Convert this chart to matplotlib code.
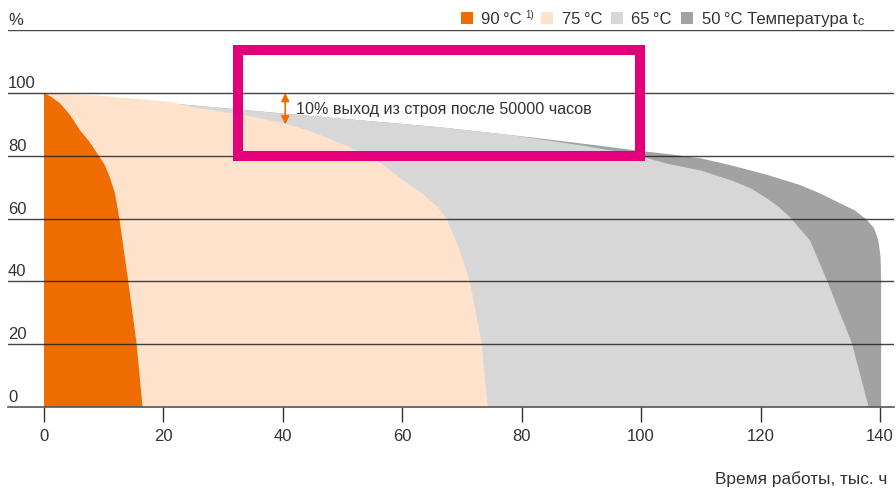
import matplotlib
matplotlib.use('Agg')
import matplotlib.pyplot as plt
from matplotlib.patches import Rectangle

plt.rcParams['font.family'] = ['Liberation Sans', 'DejaVu Sans']

# values: operating time (thousand hours) -> share still working (%)
t90_x = [0, 1.0, 2.7, 4.35, 6.0, 7.6, 9.1, 10.2, 11.0, 11.9, 12.6, 14.1, 15.5, 16.5]
t90_y = [100, 99.0, 96.7, 93.0, 88.2, 84.5, 80.2, 77.0, 73.3, 68.0, 60.3, 40.2, 20.3, 0]

t75_x = [0, 9.4, 20.6, 26.1, 31.7, 33.4, 40.4, 44.5, 48.4, 52.9, 56.5, 59.6, 63.5, 66.0, 67.4, 69.5, 71.3, 73.3, 74.3]
t75_y = [100, 99.1, 97.3, 95.1, 93.5, 93.0, 90.3, 87.9, 85.0, 81.3, 77.5, 73.0, 67.8, 63.5, 60.1, 50.5, 40.2, 20.3, 0]

t65_x = [0, 20, 33.4, 50, 65.2, 73, 79, 90, 98.7, 104.3, 110, 115.4, 118.5, 121.0, 123.0, 124.9, 128.3, 131.1, 135.3, 138.1]
t65_y = [100, 96.9, 94.6, 91.8, 89.3, 87.7, 86.4, 83.3, 80.5, 77.5, 75.3, 72.0, 69.5, 66.5, 63.8, 60.5, 53.0, 40.4, 20.3, 0]

t50_x = [0, 20, 33.4, 50, 65.2, 73, 81.9, 93.1, 98.7, 104.3, 110, 115.4, 121, 126.6, 130, 133.3, 135.8, 137.8, 139.0, 139.7, 140.1, 140.2, 140.2]
t50_y = [100, 96.9, 94.6, 91.8, 89.3, 87.7, 85.8, 83.2, 81.8, 80.6, 79.2, 76.8, 74.0, 70.7, 68.0, 64.9, 62.6, 59.6, 57.0, 53.2, 48.0, 40.0, 0]

x_ticks = [0, 20, 40, 60, 80, 100, 120, 140]
y_lines = [20, 40, 60, 80, 100, 120]
y_labels = ['20', '40', '60', '80', '100', '%']

legend_labels = ['90\u2009°C', '75\u2009°C', '65\u2009°C', '50\u2009°C Температура t']
note = '10% выход из строя после 50000 часов'

orange = '#EF6C00'
peach = '#FEE2CB'
light = '#D7D7D7'
dark = '#A2A2A2'
magenta = '#E2007A'
txt = '#333333'

W, H = 896, 488
fig = plt.figure(figsize=(W / 100, H / 100), dpi=100)
ax = fig.add_axes([8 / W, 1 - 407 / H, 886 / W, (407 - 30.2) / H])
ax.set_xlim(-6.03, 142.35)
ax.set_ylim(0, 120)

# stacked areas, darkest/longest first
for xs, ys, c in [(t50_x, t50_y, dark), (t65_x, t65_y, light),
                  (t75_x, t75_y, peach), (t90_x, t90_y, orange)]:
    ax.fill(xs + [0], ys + [0], color=c, lw=0, zorder=1)

for v in y_lines:
    ax.axhline(v, color='#222222', lw=1.0, alpha=0.85, zorder=3)

fs = 12
ax.annotate('0', xy=(0, 0), xycoords=('axes fraction', 'data'), xytext=(0, 3.6),
            textcoords='offset points', va='baseline', ha='left', fontsize=fs, color=txt)
for v, s in zip(y_lines, y_labels):
    ax.annotate(s, xy=(0, v), xycoords=('axes fraction', 'data'), xytext=(0, 3.6),
                textcoords='offset points', va='baseline', ha='left', fontsize=fs, color=txt)

for s in ['left', 'right', 'top']:
    ax.spines[s].set_visible(False)
ax.spines['bottom'].set_color('#555555')
ax.spines['bottom'].set_linewidth(1.2)
ax.set_yticks([])
ax.set_xticks(x_ticks)
ax.tick_params(axis='x', length=11, width=1, color='#333333', pad=5,
               labelsize=fs, labelcolor=txt)

# arrow + note + magenta frame
ax.annotate('', xy=(40.4, 90), xytext=(40.4, 100),
            arrowprops=dict(arrowstyle='<|-|>', color=orange, lw=1.2,
                            mutation_scale=12, shrinkA=0, shrinkB=0), zorder=4)
ax.text(42.2, 94.6, note, va='center', ha='left', fontsize=11.6, color=txt, zorder=4)
ax.add_patch(Rectangle((32.5, 79.9), 99.8 - 32.5, 113.7 - 79.9, fill=False,
                       ec=magenta, lw=7.2, joinstyle='miter', zorder=5))

# legend drawn by hand
sq_x = [461, 541, 611, 681]
lab_x = [481, 562, 631, 702]
cols = [orange, peach, light, dark]
items = []
for sx, lx, c, lab in zip(sq_x, lab_x, cols, legend_labels):
    fig.add_artist(Rectangle((sx / W, 1 - 24 / H), 12 / W, 12 / H,
                             transform=fig.transFigure, color=c, lw=0))
    items.append(fig.text(lx / W, 1 - 24 / H, lab, va='baseline', ha='left',
                          fontsize=fs, color=txt))

fig.text(887 / W, 1 - 484 / H, 'Время работы, тыс. ч', ha='right', va='baseline',
         fontsize=12.4, color=txt)

fig.canvas.draw()
r = fig.canvas.get_renderer()
b0 = items[0].get_window_extent(r)
fig.text((b0.x1 + 4) / W, 1 - 18.5 / H, '1)', va='baseline', ha='left', fontsize=7, color=txt)
b3 = items[3].get_window_extent(r)
fig.text((b3.x1 + 0.5) / W, 1 - 25 / H, 'c', va='baseline', ha='left', fontsize=9, color=txt)

fig.savefig('out.png', dpi=100)
